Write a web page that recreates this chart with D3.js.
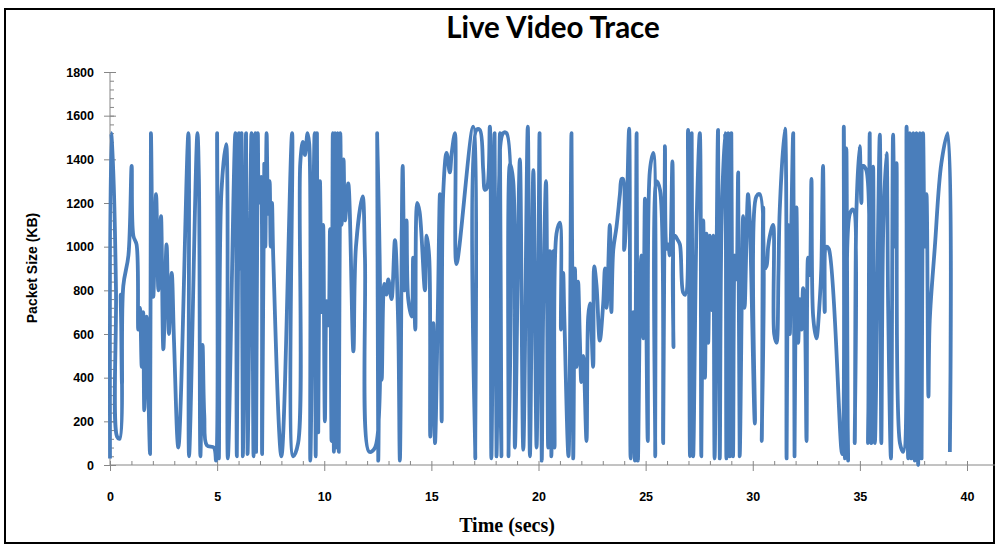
<!DOCTYPE html>
<html>
<head>
<meta charset="utf-8">
<script src="https://cdn.jsdelivr.net/npm/d3@7/dist/d3.min.js"></script>
<style>
  body { margin: 0; background: #fff; }
  .tickText text { font-family: "Liberation Sans", Arial, sans-serif; font-weight: bold; font-size: 12.5px; fill: #000; }
  .axisGray line, .axisGray path { stroke: #868686; }
</style>
</head>
<body>
<svg width="997" height="546"></svg>
<script>
// packet trace (seconds, KB)
var times = [
  0.00, 0.05, 0.15, 0.28, 0.33, 0.45, 0.50, 0.56, 0.62, 0.86, 1.01, 1.09, 1.24, 1.32, 1.40, 1.48, 1.55, 1.60, 1.71, 1.79,
  1.87, 1.91, 2.02, 2.15, 2.26, 2.38, 2.49, 2.64, 2.75, 2.88, 2.99, 3.19, 3.66, 3.69, 4.08, 4.15, 4.22, 4.32, 4.40, 4.52,
  4.85, 4.95, 5.00, 5.08, 5.20, 5.42, 5.50, 5.85, 5.92, 6.02, 6.08, 6.14, 6.20, 6.35, 6.42, 6.60, 6.64, 6.70, 6.78, 6.82,
  6.90, 6.95, 7.05, 7.10, 7.20, 7.25, 7.31, 7.38, 7.45, 7.50, 7.56, 7.62, 8.00, 8.50, 8.55, 8.78, 8.88, 9.00, 9.10, 9.22,
  9.30, 9.35, 9.55, 9.60, 9.66, 9.72, 9.80, 9.88, 9.95, 10.03, 10.11, 10.20, 10.27, 10.34, 10.40, 10.45, 10.50, 10.55, 10.62, 10.68,
  10.75, 10.81, 10.90, 10.97, 11.12, 11.36, 11.48, 11.79, 11.90, 12.10, 12.37, 12.47, 12.52, 12.60, 12.68, 12.80, 12.90, 12.99, 13.14, 13.30,
  13.45, 13.53, 13.66, 13.75, 13.84, 13.92, 14.08, 14.15, 14.25, 14.34, 14.45, 14.70, 14.78, 14.90, 14.95, 15.09, 15.17, 15.30, 15.40, 15.48,
  15.55, 15.71, 15.86, 15.95, 16.10, 16.17, 16.95, 17.05, 17.11, 17.26, 17.42, 17.50, 17.60, 17.73, 17.80, 17.95, 18.04, 18.20, 18.27, 18.35,
  18.51, 18.60, 18.67, 18.82, 18.90, 19.13, 19.29, 19.50, 19.60, 19.76, 19.91, 20.00, 20.05, 20.15, 20.22, 20.35, 20.45, 20.53, 20.60, 20.69,
  20.75, 20.84, 21.00, 21.05, 21.15, 21.20, 21.40, 21.54, 21.62, 21.70, 21.78, 21.85, 21.93, 22.00, 22.09, 22.24, 22.32, 22.40, 22.55, 22.60,
  22.71, 22.86, 23.02, 23.10, 23.18, 23.33, 23.40, 23.49, 23.64, 23.80, 23.88, 23.95, 24.00, 24.11, 24.23, 24.30, 24.42, 24.50, 24.58, 24.64,
  24.73, 24.80, 24.89, 24.97, 25.10, 25.20, 25.36, 25.45, 25.51, 25.67, 25.82, 25.90, 25.98, 26.05, 26.13, 26.25, 26.30, 26.36, 26.50, 26.60,
  26.75, 26.85, 26.98, 27.07, 27.15, 27.22, 27.38, 27.53, 27.60, 27.69, 27.77, 27.84, 27.92, 28.00, 28.08, 28.16, 28.22, 28.38, 28.46, 28.54,
  28.70, 28.77, 28.85, 28.93, 29.00, 29.08, 29.16, 29.24, 29.32, 29.39, 29.55, 29.62, 29.78, 29.86, 30.10, 30.17, 30.33, 30.42, 30.49, 30.56,
  30.64, 30.72, 30.80, 30.95, 31.00, 31.11, 31.20, 31.26, 31.50, 31.58, 31.65, 31.73, 31.80, 31.89, 31.95, 32.04, 32.12, 32.20, 32.28, 32.35,
  32.43, 32.51, 32.58, 32.66, 32.74, 32.82, 32.97, 33.13, 33.20, 33.28, 33.36, 33.44, 33.55, 34.17, 34.25, 34.30, 34.37, 34.45, 34.53, 34.68,
  34.76, 34.84, 34.99, 35.07, 35.15, 35.30, 35.38, 35.46, 35.54, 35.62, 35.70, 35.93, 36.00, 36.09, 36.24, 36.32, 36.45, 36.55, 36.63, 36.71,
  36.87, 37.02, 37.18, 37.25, 37.33, 37.40, 37.49, 37.56, 37.64, 37.72, 37.80, 37.88, 37.95, 38.03, 38.11, 38.20, 38.26, 38.50, 38.80, 39.10,
  39.20
];
var sizes = [
  30, 1520, 1350, 800, 130, 120, 780, 370, 820, 960, 1370, 1050, 1010, 620, 720, 450, 700, 250, 680, 340,
  50, 1520, 770, 1240, 800, 1140, 530, 1010, 600, 880, 560, 80, 1520, 40, 1520, 1310, 40, 550, 230, 90,
  80, 20, 1520, 30, 1250, 1470, 30, 1520, 40, 1520, 900, 1520, 40, 1520, 50, 1520, 1100, 40, 1520, 60,
  1520, 1200, 1320, 50, 1380, 1000, 1520, 1150, 1300, 1000, 1200, 950, 40, 1520, 40, 100, 1380, 1480, 1420, 1520,
  1470, 20, 1520, 40, 1520, 150, 1300, 700, 1100, 200, 750, 640, 1080, 110, 1520, 60, 1520, 80, 1520, 60,
  1520, 1100, 1400, 1120, 1290, 520, 1000, 1230, 950, 60, 80, 1520, 20, 700, 390, 830, 780, 850, 760, 1030,
  650, 20, 1370, 800, 1120, 760, 680, 950, 620, 1200, 1160, 800, 1050, 950, 130, 650, 100, 700, 1240, 200,
  1240, 1430, 1340, 1430, 1520, 920, 1550, 30, 1535, 1535, 1350, 1260, 1270, 1550, 30, 1520, 40, 1520, 40, 1520,
  1520, 40, 1380, 1300, 80, 1400, 70, 1550, 40, 1350, 80, 950, 1520, 20, 710, 1300, 80, 980, 40, 980,
  80, 1060, 1110, 620, 880, 700, 40, 1520, 30, 900, 450, 840, 580, 380, 500, 110, 680, 740, 450, 910,
  820, 570, 740, 900, 720, 1100, 700, 985, 1090, 1240, 1310, 1310, 985, 1150, 1540, 30, 700, 20, 1520, 20,
  700, 960, 580, 1220, 110, 1350, 1430, 40, 1300, 1260, 100, 1460, 990, 1010, 960, 1390, 540, 1050, 1030, 1010,
  790, 780, 1535, 40, 1520, 40, 1120, 1520, 40, 1120, 400, 1060, 560, 1050, 710, 1050, 30, 1535, 30, 1080,
  1520, 30, 1520, 40, 1520, 40, 960, 850, 1340, 40, 1140, 720, 1240, 1120, 190, 1230, 1240, 110, 1180, 900,
  910, 1000, 1050, 1100, 600, 560, 880, 1170, 1540, 30, 1100, 600, 1100, 1520, 40, 1180, 560, 760, 620, 810,
  700, 110, 950, 870, 1310, 680, 580, 760, 900, 1370, 700, 1000, 990, 50, 1550, 30, 1450, 20, 1150, 1170,
  100, 1170, 1460, 1200, 1370, 1350, 100, 1520, 100, 1366, 100, 1513, 100, 1075, 1428, 725, 30, 1513, 1000, 1382,
  100, 60, 1550, 30, 1520, 30, 1520, 20, 1520, 0, 1520, 30, 1520, 1000, 1240, 313, 660, 1000, 1380, 1520,
  60
];
var yTicks = [0, 200, 400, 600, 800, 1000, 1200, 1400, 1600, 1800];
var xTicks = [0, 5, 10, 15, 20, 25, 30, 35, 40];
var chartTitle = "Live Video Trace";
var xTitle = "Time (secs)";
var yTitle = "Packet Size (KB)";

var svg = d3.select("svg");
var AXIS_L = 110, AXIS_R = 995, AXIS_TOP = 72, AXIS_BOT = 465;

var x = d3.scaleLinear().domain([0, 40]).range([AXIS_L, 967]);
var y = d3.scaleLinear().domain([0, 1800]).range([AXIS_BOT, AXIS_TOP]);

// outer frame
svg.append("rect")
  .attr("x", 5).attr("y", 9)
  .attr("width", 989).attr("height", 534)
  .attr("fill", "#fff")
  .attr("stroke", "#000")
  .attr("stroke-width", 2);

// title
svg.append("text")
  .text(chartTitle)
  .attr("x", 553).attr("y", 38)
  .attr("text-anchor", "middle")
  .style("font-family", "Lato, 'Open Sans', sans-serif")
  .style("font-weight", "bold")
  .style("font-size", "29.5px");

// y axis: minor ticks inside, major ticks crossing
svg.append("g").attr("class", "axisGray")
  .attr("transform", "translate(" + AXIS_L + ",0)")
  .call(d3.axisRight(y).tickValues(d3.range(0, 1801, 40)).tickSize(4).tickFormat(""))
  .call(g => g.select(".domain").remove());
svg.append("g").attr("class", "axisGray")
  .attr("transform", "translate(" + AXIS_L + ",0)")
  .call(d3.axisRight(y).tickValues(yTicks).tickSize(6).tickFormat(""))
  .call(g => g.select(".domain").remove());
svg.append("g").attr("class", "axisGray tickText")
  .attr("transform", "translate(" + AXIS_L + ",0)")
  .call(d3.axisLeft(y).tickValues(yTicks).tickSize(6).tickPadding(10).tickFormat(d3.format("d")))
  .call(g => g.select(".domain").remove());

// x axis
svg.append("g").attr("class", "axisGray")
  .attr("transform", "translate(0," + AXIS_BOT + ")")
  .call(d3.axisTop(x).tickValues(d3.range(0, 41, 1)).tickSize(4).tickFormat(""))
  .call(g => g.select(".domain").remove());
svg.append("g").attr("class", "axisGray tickText")
  .attr("transform", "translate(0," + AXIS_BOT + ")")
  .call(d3.axisBottom(x).tickValues(xTicks).tickSize(6).tickPadding(21).tickFormat(d3.format("d")))
  .call(g => g.select(".domain").remove());

// axis lines
svg.append("line").attr("stroke", "#868686")
  .attr("x1", AXIS_L).attr("x2", AXIS_L)
  .attr("y1", AXIS_TOP).attr("y2", AXIS_BOT);
svg.append("line").attr("stroke", "#868686")
  .attr("x1", AXIS_L).attr("x2", AXIS_R)
  .attr("y1", AXIS_BOT).attr("y2", AXIS_BOT);

// the trace
var pts = times.map(function (t, i) { return [t, sizes[i]]; });
var line = d3.line()
  .x(function (d) { return x(d[0]); })
  .y(function (d) { return y(d[1]); })
  .curve(d3.curveCatmullRom.alpha(0.5));

svg.append("path")
  .datum(pts)
  .attr("d", line)
  .attr("fill", "none")
  .attr("stroke", "#4a7ebb")
  .attr("stroke-width", 3.8)
  .attr("stroke-linejoin", "round");

// axis titles
svg.append("text")
  .text(yTitle)
  .attr("transform", "translate(37,268) rotate(-90)")
  .attr("text-anchor", "middle")
  .style("font-family", "'Liberation Sans', Arial, sans-serif")
  .style("font-weight", "bold")
  .style("font-size", "14px");

svg.append("text")
  .text(xTitle)
  .attr("x", 507).attr("y", 532)
  .attr("text-anchor", "middle")
  .style("font-family", "'Liberation Serif', 'Times New Roman', serif")
  .style("font-weight", "bold")
  .style("font-size", "20px");
</script>
</body>
</html>
